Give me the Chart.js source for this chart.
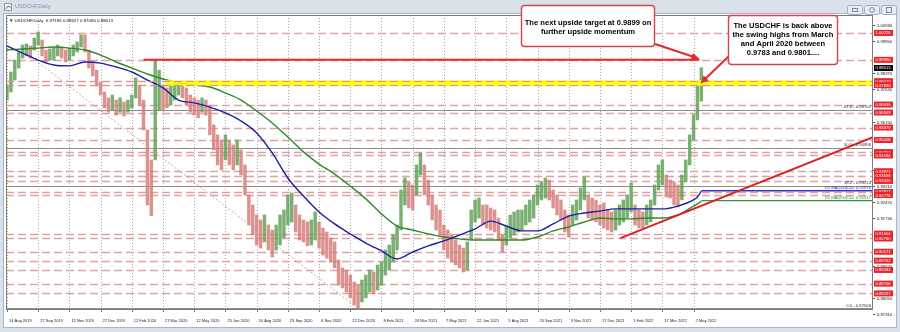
<!DOCTYPE html>
<html>
<head>
<meta charset="utf-8">
<script src="https://cdn.jsdelivr.net/npm/chart.js@4.4.1/dist/chart.umd.min.js"></script>
<style>
  html, body { margin: 0; padding: 0; }
  body { width: 900px; height: 332px; background: #d9e1ea; position: relative; overflow: hidden; }
  #win { position: absolute; left: 3px; top: 13px; width: 894px; height: 315px; background: #fff; border: 1px solid #aab5c3; box-sizing: border-box; }
  #usdchf { position: absolute; left: 0; top: 0; }
</style>
</head>
<body>
<div id="win"></div>
<canvas id="usdchf" width="900" height="332"></canvas>
<script>
console.log("loaded")

// x axis: trading day index, MT4 prints a date every 32 bars
const dateLabels = ['14 Aug 2019', '27 Sep 2019', '12 Nov 2019', '27 Dec 2019', '12 Feb 2020', '27 Mar 2020',
  '12 May 2020', '25 Jun 2020', '10 Aug 2020', '23 Sep 2020', '6 Nov 2020', '22 Dec 2020', '8 Feb 2021',
  '24 Mar 2021', '7 May 2021', '22 Jun 2021', '5 Aug 2021', '20 Sep 2021', '3 Nov 2021', '17 Dec 2021',
  '1 Feb 2022', '17 Mar 2022', '2 May 2022'];
const dateTicks = dateLabels.map((d, i) => i * 32);

// USDCHF daily, one range bar per 4 trading days (high / low)
const hi = [
  0.9783, 0.9843, 0.9898, 0.9935, 0.9967, 0.9972, 0.9963, 0.9999, 1.0027, 0.9990,
  0.9944, 0.9949, 0.9953, 0.9967, 0.9958, 0.9944, 0.9953, 0.9967, 0.9981, 1.0013,
  1.0013, 0.9944, 0.9889, 0.9852, 0.9797, 0.9751, 0.9724, 0.9737, 0.9714, 0.9724,
  0.9705, 0.9714, 0.9737, 0.9816, 0.9783, 0.9714, 0.9577, 0.9439, 0.9901, 0.9852,
  0.9783, 0.9770, 0.9783, 0.9797, 0.9801, 0.9790, 0.9770, 0.9737, 0.9724, 0.9714,
  0.9724, 0.9714, 0.9691, 0.9600, 0.9554, 0.9531, 0.9554, 0.9531, 0.9508, 0.9531,
  0.9485, 0.9416, 0.9278, 0.9232, 0.9186, 0.9163, 0.9186, 0.9140, 0.9117, 0.9140,
  0.9186, 0.9209, 0.9278, 0.9287, 0.9232, 0.9186, 0.9163, 0.9154, 0.9163, 0.9200,
  0.9154, 0.9126, 0.9108, 0.9080, 0.9062, 0.8979, 0.8943, 0.8933, 0.8910, 0.8878,
  0.8864, 0.8887, 0.8910, 0.8933, 0.8924, 0.8956, 0.8970, 0.9025, 0.9048, 0.9094,
  0.9140, 0.9301, 0.9356, 0.9338, 0.9324, 0.9416, 0.9471, 0.9416, 0.9347, 0.9278,
  0.9232, 0.9209, 0.9140, 0.9117, 0.9094, 0.9071, 0.9048, 0.9034, 0.9062, 0.9209,
  0.9255, 0.9264, 0.9232, 0.9232, 0.9218, 0.9209, 0.9172, 0.9094, 0.9140, 0.9186,
  0.9200, 0.9209, 0.9209, 0.9232, 0.9255, 0.9278, 0.9324, 0.9338, 0.9356, 0.9347,
  0.9301, 0.9278, 0.9255, 0.9209, 0.9186, 0.9232, 0.9255, 0.9310, 0.9361, 0.9278,
  0.9264, 0.9255, 0.9232, 0.9241, 0.9209, 0.9200, 0.9209, 0.9232, 0.9255, 0.9278,
  0.9333, 0.9232, 0.9209, 0.9200, 0.9232, 0.9255, 0.9324, 0.9416, 0.9439, 0.9370,
  0.9347, 0.9338, 0.9324, 0.9370, 0.9439, 0.9554, 0.9646, 0.9783, 0.9863];
const lo = [
  0.9714, 0.9751, 0.9806, 0.9861, 0.9907, 0.9917, 0.9907, 0.9944, 0.9967, 0.9917,
  0.9889, 0.9898, 0.9898, 0.9917, 0.9907, 0.9889, 0.9898, 0.9917, 0.9935, 0.9958,
  0.9935, 0.9861, 0.9825, 0.9779, 0.9737, 0.9678, 0.9659, 0.9668, 0.9645, 0.9659,
  0.9641, 0.9659, 0.9678, 0.9724, 0.9691, 0.9577, 0.9232, 0.9183, 0.9439, 0.9668,
  0.9668, 0.9678, 0.9691, 0.9714, 0.9737, 0.9724, 0.9691, 0.9659, 0.9645, 0.9632,
  0.9659, 0.9645, 0.9554, 0.9485, 0.9416, 0.9393, 0.9439, 0.9416, 0.9393, 0.9416,
  0.9370, 0.9278, 0.9140, 0.9094, 0.9048, 0.9034, 0.9062, 0.9025, 0.8993, 0.9025,
  0.9048, 0.9080, 0.9140, 0.9154, 0.9108, 0.9071, 0.9062, 0.9044, 0.9048, 0.9071,
  0.9034, 0.9002, 0.8988, 0.8970, 0.8943, 0.8864, 0.8851, 0.8832, 0.8805, 0.8772,
  0.8757, 0.8786, 0.8805, 0.8832, 0.8823, 0.8841, 0.8864, 0.8910, 0.8933, 0.8970,
  0.9025, 0.9117, 0.9232, 0.9218, 0.9209, 0.9278, 0.9370, 0.9278, 0.9232, 0.9163,
  0.9117, 0.9094, 0.9025, 0.8988, 0.8970, 0.8956, 0.8943, 0.8924, 0.8933, 0.9071,
  0.9154, 0.9172, 0.9140, 0.9126, 0.9117, 0.9108, 0.9071, 0.9016, 0.9048, 0.9080,
  0.9094, 0.9108, 0.9117, 0.9140, 0.9154, 0.9172, 0.9232, 0.9255, 0.9264, 0.9255,
  0.9218, 0.9186, 0.9163, 0.9108, 0.9085, 0.9140, 0.9163, 0.9209, 0.9255, 0.9172,
  0.9163, 0.9154, 0.9140, 0.9126, 0.9117, 0.9108, 0.9117, 0.9140, 0.9154, 0.9172,
  0.9200, 0.9140, 0.9126, 0.9126, 0.9140, 0.9154, 0.9232, 0.9301, 0.9324, 0.9269,
  0.9264, 0.9232, 0.9223, 0.9255, 0.9338, 0.9416, 0.9531, 0.9623, 0.9709];
const barStep = 4;

// moving averages sampled every 16 bars (last two at the right end of price)
const maDays = [0, 16, 32, 48, 64, 80, 96, 112, 128, 144, 160, 176, 192, 208, 224, 240, 256, 272, 288, 304,
  320, 336, 352, 368, 384, 400, 416, 432, 448, 464, 480, 496, 512, 528, 544, 560, 576, 592, 608, 624,
  640, 656, 672, 688, 704, 708, 712];
const ma100 = [0.9963, 0.9930, 0.9898, 0.9875, 0.9871, 0.9889, 0.9884, 0.9866, 0.9843, 0.9806,
  0.9770, 0.9714, 0.9701, 0.9682, 0.9655, 0.9618, 0.9563, 0.9471, 0.9356, 0.9273,
  0.9200, 0.9145, 0.9099, 0.9057, 0.9021, 0.8984, 0.9016, 0.9044, 0.9067, 0.9094,
  0.9122, 0.9158, 0.9135, 0.9113, 0.9113, 0.9145, 0.9181, 0.9195, 0.9204, 0.9214,
  0.9214, 0.9214, 0.9214, 0.9227, 0.9255, 0.9269, 0.9296];
const ma200 = [0.9944, 0.9949, 0.9953, 0.9958, 0.9953, 0.9944, 0.9921, 0.9889, 0.9861, 0.9834,
  0.9811, 0.9793, 0.9783, 0.9774, 0.9747, 0.9714, 0.9664, 0.9609, 0.9544, 0.9476,
  0.9420, 0.9374, 0.9319, 0.9260, 0.9191, 0.9135, 0.9117, 0.9099, 0.9085, 0.9076,
  0.9071, 0.9071, 0.9071, 0.9071, 0.9085, 0.9113, 0.9131, 0.9154, 0.9172, 0.9168,
  0.9168, 0.9172, 0.9172, 0.9186, 0.9227, 0.9237, 0.9250];
const ma100Now = 0.92976;
const ma200Now = 0.92517;

// horizontal levels (red tags on the price axis)
const levels = [1.00226, 0.98990, 0.98010, 0.97830, 0.96935, 0.96569, 0.95879, 0.95308, 0.94750, 0.94594,
  0.93871, 0.93658, 0.93425, 0.92917, 0.92776, 0.91004, 0.90780, 0.90171, 0.89762, 0.89334, 0.88706, 0.88257];
const yTicks = [1.00590, 0.99850, 0.98370, 0.97630, 0.96150, 0.93950, 0.93210, 0.92470, 0.91730, 0.89520, 0.88050, 0.87310];
const fibNames = ['61.8', '50.0', '38.2', '0.0'];
const fibLevels = [0.96702, 0.94958, 0.93214, 0.87568];
const lastPrice = 0.98613;
const target = 0.98990;
const zoneLow = 0.97830, zoneHigh = 0.98010;
const targetDays = [140, 710];
const trendDays = [629, 888], trendVals = [0.9080, 0.9544];
const fibDays = [19, 360], fibVals = [0.9932, 0.8757];
const zoneStart = 162;

const FONT = '"Liberation Sans", Arial, sans-serif';

function hline(ctx, x1, x2, y) {
  ctx.beginPath(); ctx.moveTo(x1, y); ctx.lineTo(x2, y); ctx.stroke();
}

function rbox(ctx, x, y, w, h, r) {
  ctx.beginPath();
  ctx.moveTo(x + r, y); ctx.lineTo(x + w - r, y); ctx.quadraticCurveTo(x + w, y, x + w, y + r);
  ctx.lineTo(x + w, y + h - r); ctx.quadraticCurveTo(x + w, y + h, x + w - r, y + h);
  ctx.lineTo(x + r, y + h); ctx.quadraticCurveTo(x, y + h, x, y + h - r);
  ctx.lineTo(x, y + r); ctx.quadraticCurveTo(x, y, x + r, y);
  ctx.closePath();
}

function arrow(ctx, x1, y1, x2, y2) {
  const ang = Math.atan2(y2 - y1, x2 - x1), L = 8, W = 3.6;
  ctx.beginPath(); ctx.moveTo(x1, y1); ctx.lineTo(x2 - 4 * Math.cos(ang), y2 - 4 * Math.sin(ang)); ctx.stroke();
  ctx.beginPath(); ctx.moveTo(x2, y2);
  ctx.lineTo(x2 - L * Math.cos(ang) + W * Math.sin(ang), y2 - L * Math.sin(ang) - W * Math.cos(ang));
  ctx.lineTo(x2 - L * Math.cos(ang) - W * Math.sin(ang), y2 - L * Math.sin(ang) + W * Math.cos(ang));
  ctx.closePath(); ctx.fill();
}

// MT4 look: grid, levels, axis tags, notes
const mt4 = {
  id: 'mt4',
  beforeDatasetsDraw(chart) {
    const { ctx, chartArea: a, scales: { x, y } } = chart;
    ctx.save();
    ctx.beginPath(); ctx.rect(a.left, a.top, a.width, a.height); ctx.clip();
    ctx.strokeStyle = '#a6a6a6'; ctx.lineWidth = 1; ctx.setLineDash([1, 2]);
    dateTicks.forEach(d => {
      const px = Math.round(x.getPixelForValue(d)) + 0.5;
      ctx.beginPath(); ctx.moveTo(px, a.top); ctx.lineTo(px, a.bottom); ctx.stroke();
    });
    ctx.setLineDash([8, 4]); ctx.strokeStyle = '#dca4a4'; ctx.lineWidth = 1.4;
    levels.forEach(v => hline(ctx, a.left, a.right, Math.round(y.getPixelForValue(v)) + 0.5));
    ctx.setLineDash([]); ctx.strokeStyle = '#8e8e8e'; ctx.lineWidth = 1;
    fibLevels.forEach(v => hline(ctx, a.left, a.right, Math.round(y.getPixelForValue(v)) + 0.5));
    ctx.restore();
  },
  afterDatasetsDraw(chart) {
    const { ctx, chartArea: a, scales: { x, y } } = chart;
    ctx.save();
    const x0 = x.getPixelForValue(zoneStart), yt = y.getPixelForValue(zoneHigh), yb = y.getPixelForValue(zoneLow);
    ctx.fillStyle = 'rgba(255,255,0,0.88)';
    ctx.fillRect(x0, yt - 1, a.right - x0, yb - yt + 2);
    ctx.setLineDash([8, 4]); ctx.strokeStyle = '#d49a9a'; ctx.lineWidth = 1.2;
    hline(ctx, a.left, a.right, Math.round(yt) + 0.5);
    hline(ctx, a.left, a.right, Math.round(yb) + 0.5);
    ctx.restore();
  },
  afterDraw(chart) {
    const { ctx, chartArea: a, scales: { x, y } } = chart;
    ctx.save();
    // plot frame
    ctx.strokeStyle = '#7c7c7c'; ctx.lineWidth = 1;
    ctx.strokeRect(a.left + 0.5, a.top + 0.5, a.width - 1, a.height);
    // date tick marks
    dateTicks.forEach(d => {
      const px = Math.round(x.getPixelForValue(d)) + 0.5;
      ctx.beginPath(); ctx.moveTo(px, a.bottom); ctx.lineTo(px, a.bottom + 3); ctx.stroke();
    });
    // price scale
    ctx.textBaseline = 'middle'; ctx.textAlign = 'left';
    ctx.font = '4.2px ' + FONT;
    yTicks.forEach(v => {
      const py = Math.round(y.getPixelForValue(v)) + 0.5;
      ctx.strokeStyle = '#555';
      ctx.beginPath(); ctx.moveTo(a.right, py); ctx.lineTo(a.right + 2, py); ctx.stroke();
      ctx.fillStyle = '#222'; ctx.fillText(v.toFixed(5), a.right + 4, py);
    });
    levels.forEach(v => {
      const py = y.getPixelForValue(v);
      ctx.fillStyle = '#e5262b'; ctx.fillRect(a.right + 1, py - 3, 19, 6);
      ctx.fillStyle = '#fff'; ctx.fillText(v.toFixed(5), a.right + 2.5, py + 0.3);
    });
    const lp = y.getPixelForValue(lastPrice);
    ctx.fillStyle = '#000'; ctx.fillRect(a.right + 1, lp - 3, 19, 6);
    ctx.fillStyle = '#fff'; ctx.fillText(lastPrice.toFixed(5), a.right + 2.5, lp + 0.3);

    // fibo and MA captions
    ctx.textAlign = 'right'; ctx.textBaseline = 'bottom'; ctx.font = '4.2px ' + FONT;
    fibLevels.forEach((v, i) => {
      ctx.fillStyle = '#333';
      ctx.fillText(fibNames[i] + ' - ' + v.toFixed(5), a.right - 2, y.getPixelForValue(v) - 0.5);
    });
    ctx.fillStyle = '#2b2bb5';
    ctx.fillText('D1 MA(100)Clo: ' + ma100Now.toFixed(5), a.right - 2, y.getPixelForValue(ma100Now) - 1);
    ctx.fillStyle = '#2f8a2f';
    ctx.fillText('D1 MA(200)Clo: ' + ma200Now.toFixed(5), a.right - 2, y.getPixelForValue(ma200Now) - 1);

    // chart header
    ctx.textAlign = 'left'; ctx.textBaseline = 'middle'; ctx.fillStyle = '#111';
    ctx.font = '4.4px ' + FONT;
    ctx.fillText('\u25BC USDCHF,Daily  0.97186 0.98627 0.97086 0.98613', a.left + 3, a.top + 6);

    // window title bar
    ctx.font = '5.4px ' + FONT; ctx.fillStyle = '#8793a3';
    ctx.fillText('USDCHF,Daily', 15, 7);
    ctx.strokeStyle = '#8e9bb0'; ctx.fillStyle = '#f3f6f9';
    ctx.fillRect(4.5, 3.5, 7, 7); ctx.strokeRect(4.5, 3.5, 7, 7);
    ctx.strokeStyle = '#4f8a3c';
    ctx.beginPath(); ctx.moveTo(5.5, 9); ctx.lineTo(8, 6); ctx.lineTo(10.5, 7.5); ctx.stroke();
    [[847, 'min'], [864, 'max'], [881, 'close']].forEach(([bx, kind]) => {
      ctx.fillStyle = '#e9eef4'; ctx.strokeStyle = '#a3afbe';
      rbox(ctx, bx + 0.5, 5.5, 15, 9, 2); ctx.fill(); ctx.stroke();
      ctx.strokeStyle = '#7d899a';
      if (kind === 'min') { ctx.strokeRect(bx + 5.5, 8.5, 5, 3); }
      else if (kind === 'max') { ctx.beginPath(); ctx.arc(bx + 8, 10, 2.4, 0, Math.PI * 2); ctx.stroke(); }
      else { ctx.strokeRect(bx + 5.5, 7.5, 5, 5); }
    });

    // notes
    const tipX = x.getPixelForValue(710);
    ctx.strokeStyle = '#e02b2f'; ctx.fillStyle = '#e02b2f'; ctx.lineWidth = 2;
    arrow(ctx, 655, 44, tipX, y.getPixelForValue(target) - 1);
    arrow(ctx, 729, 56, tipX + 1, y.getPixelForValue(0.9790));

    ctx.lineWidth = 1.4; ctx.strokeStyle = '#d44447'; ctx.fillStyle = '#fff';
    rbox(ctx, 521.5, 5.5, 133, 41, 3); ctx.fill(); ctx.stroke();
    rbox(ctx, 728.5, 15.5, 109, 49, 3); ctx.fill(); ctx.stroke();
    ctx.fillStyle = '#000'; ctx.textAlign = 'center'; ctx.textBaseline = 'middle';
    ctx.font = 'bold 7.6px ' + FONT;
    ctx.fillText('The next upside target at 0.9899 on', 588, 22.5);
    ctx.fillText('further upside momentum', 588, 31.5);
    ['The USDCHF is back above', 'the swing highs from March', 'and April 2020 between', '0.9783 and 0.9801....']
      .forEach((t, i) => ctx.fillText(t, 783, 25.5 + i * 9.3));
    ctx.restore();
  }
};

const candleData = hi.map((h, i) => ({ x: i * barStep, y: [lo[i], h] }));
const barColors = hi.map((h, i) => {
  const mid = (h + lo[i]) / 2;
  const prev = i ? (hi[i - 1] + lo[i - 1]) / 2 : mid;
  return mid >= prev ? 'rgba(100,162,90,0.85)' : 'rgba(214,128,124,0.85)';
});
const pts = (days, vals) => vals.map((v, i) => ({ x: days[i], y: v }));

const ctx = document.getElementById('usdchf').getContext('2d');
const usdchfChart = new Chart(ctx, {
  type: 'bar',
  data: {
    datasets: [
      {
        type: 'line', label: 'Target 0.9899', data: pts(targetDays, [target, target]),
        borderColor: '#e6282e', borderWidth: 2, pointRadius: 0, order: 1
      },
      {
        type: 'line', label: 'Trend line', data: pts(trendDays, trendVals),
        borderColor: '#d4232a', borderWidth: 2, pointRadius: 0, order: 1
      },
      {
        type: 'line', label: 'MA 100', data: pts(maDays, ma100),
        borderColor: '#1f1fa3', borderWidth: 1.4, pointRadius: 0, cubicInterpolationMode: 'monotone', order: 2
      },
      {
        type: 'line', label: 'MA 200', data: pts(maDays, ma200),
        borderColor: '#2e8a2c', borderWidth: 1.4, pointRadius: 0, cubicInterpolationMode: 'monotone', order: 2
      },
      {
        type: 'line', label: 'MA 100 now', data: pts([712, 888], [ma100Now, ma100Now]),
        borderColor: '#3434c8', borderWidth: 1.6, pointRadius: 0, order: 2
      },
      {
        type: 'line', label: 'MA 200 now', data: pts([712, 888], [ma200Now, ma200Now]),
        borderColor: '#37973a', borderWidth: 1.3, pointRadius: 0, order: 2
      },
      {
        type: 'line', label: 'Fibo', data: pts(fibDays, fibVals),
        borderColor: '#c9a4a4', borderWidth: 1, borderDash: [2, 2], pointRadius: 0, order: 3
      },
      {
        type: 'bar', label: 'USDCHF', data: candleData,
        backgroundColor: barColors, barThickness: 2.8, order: 5
      }
    ]
  },
  options: {
    responsive: false,
    animation: false,
    devicePixelRatio: 1,
    layout: { padding: { left: 6, top: 15, right: 0, bottom: 0 } },
    plugins: { legend: { display: false }, tooltip: { enabled: false } },
    scales: {
      x: {
        type: 'linear', min: -1, max: 888, offset: false,
        grid: { display: false }, border: { display: false },
        afterBuildTicks: s => { s.ticks = dateTicks.map(v => ({ value: v })); },
        afterFit: s => { s.height = 23; },
        ticks: {
          autoSkip: false, maxRotation: 0, minRotation: 0, align: 'start', labelOffset: 2, padding: 1,
          color: '#222', font: { family: 'Liberation Sans', size: 4 },
          callback: (v, i) => dateLabels[i]
        }
      },
      y: {
        position: 'right', min: 0.8754, max: 1.0105,
        grid: { display: false }, border: { display: false },
        ticks: { display: false },
        afterFit: s => { s.width = 27; }
      }
    }
  },
  plugins: [mt4]
});
</script>
</body>
</html>
